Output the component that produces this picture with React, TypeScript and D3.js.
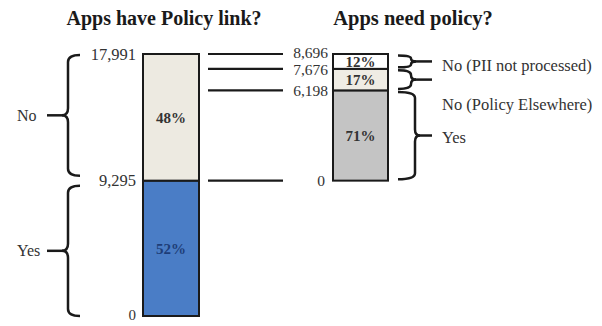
import React from "react";
import * as d3 from "d3";

// ---- data ----
const leftTitle = "Apps have Policy link?";
const rightTitle = "Apps need policy?";
const leftCategories = ["Yes", "No"]; // bottom to top
const leftValues = [9295, 8696];
const leftTicks = [0, 9295, 17991];
const rightCategories = ["Yes", "No (Policy Elsewhere)", "No (PII not processed)"]; // bottom to top
const rightValues = [6198, 1478, 1020];
const rightTicks = [0, 6198, 7676, 8696];

const leftFills = ["#4a7dc6", "#edeae1"];
const leftTextFills = ["#1e3d78", "#333333"];
const rightFills = ["#c4c4c4", "#efece4", "#ffffff"];

const W = 602;
const H = 326;
const FONT = "'Liberation Serif', 'Times New Roman', serif";
const fmt = d3.format(",");

function stack(values: number[]) {
  let acc = 0;
  return values.map((v) => {
    const s = { y0: acc, y1: acc + v, v };
    acc += v;
    return s;
  });
}

// curly brace path: ends at x0, vertical at xv, middle point at xm
function bracePath(x0: number, xv: number, xm: number, y1: number, y2: number, r: number) {
  const ym = (y1 + y2) / 2;
  const rr = Math.min(r, (y2 - y1) / 4);
  const p = d3.path();
  p.moveTo(x0, y1);
  p.quadraticCurveTo(xv, y1, xv, y1 + rr);
  p.lineTo(xv, ym - rr);
  p.quadraticCurveTo(xv, ym, xm, ym);
  p.quadraticCurveTo(xv, ym, xv, ym + rr);
  p.lineTo(xv, y2 - rr);
  p.quadraticCurveTo(xv, y2, x0, y2);
  return p.toString();
}

export default function App() {
  const leftTotal = d3.sum(leftValues);
  const rightTotal = d3.sum(rightValues);
  const y = d3.scaleLinear().domain([0, leftTotal]).range([316, 54]);
  const yR = d3.scaleLinear().domain([0, rightTotal]).range([y(leftValues[0]), y(leftTotal)]);

  const lx = 143, lw = 56;
  const rx = 333, rw = 55;
  const leftStack = stack(leftValues);
  const rightStack = stack(rightValues);

  const stroke = "#1a1a1a";

  // right braces tip positions
  const rTips = rightStack.map((s) => (yR(s.y0) + yR(s.y1)) / 2);
  const rLabelY = [rTips[0] + 2, rTips[1] + 25, rTips[2] + 4];

  // right tick label positions with a minimum spacing (top to bottom)
  const sortedTicks = [...rightTicks].sort((a, b) => b - a);
  const tickLabelY: Record<number, number> = {};
  let prev = -Infinity;
  sortedTicks.forEach((t, i) => {
    let yy = yR(t) - (i === 0 ? 1 : 0);
    if (yy < prev + 17) yy = prev + 17;
    tickLabelY[t] = yy;
    prev = yy;
  });

  return (
    <svg width={W} height={H} style={{ position: "absolute", left: 0, top: 0, background: "#fff" }} fontFamily={FONT}>
      <rect width={W} height={H} fill="#fff" />
      {/* titles */}
      <text x={164} y={25} textAnchor="middle" fontWeight="bold" fontSize={20} fill="#1a1a1a">{leftTitle}</text>
      <text x={413} y={25} textAnchor="middle" fontWeight="bold" fontSize={20.5} fill="#1a1a1a">{rightTitle}</text>

      {/* left bar */}
      {leftStack.map((s, i) => (
        <g key={"l" + i}>
          <rect x={lx} y={y(s.y1)} width={lw} height={y(s.y0) - y(s.y1)} fill={leftFills[i]} stroke={stroke} strokeWidth={2} />
          <text x={lx + lw / 2} y={(y(s.y0) + y(s.y1)) / 2} dy="0.35em" textAnchor="middle" fontWeight="bold" fontSize={15} fill={leftTextFills[i]}>
            {Math.round((s.v / leftTotal) * 100) + "%"}
          </text>
        </g>
      ))}
      {/* left ticks */}
      {leftTicks.map((t) => (
        <text key={"lt" + t} x={136} y={y(t) - (t === 0 ? 1 : 0)} dy="0.35em" textAnchor="end" fontSize={t === 0 ? 15 : 16.5} fill="#333">{fmt(t)}</text>
      ))}
      {/* left braces */}
      {leftStack.map((s, i) => {
        const y1 = y(s.y1) + (i === 1 ? 1 : 5);
        const y2 = y(s.y0) - (i === 0 ? 0 : 5);
        const ym = (y1 + y2) / 2;
        return (
          <g key={"lb" + i}>
            <path d={bracePath(80, 68, 62, y1, y2, 7)} fill="none" stroke={stroke} strokeWidth={2.5} />
            <line x1={47} x2={64} y1={ym} y2={ym} stroke={stroke} strokeWidth={2.5} />
            <text x={17} y={ym} dy="0.35em" fontSize={16} fill="#333">{leftCategories[i]}</text>
          </g>
        );
      })}

      {/* right axis long tick lines and labels */}
      {rightTicks.map((t) => (
        <g key={"rt" + t}>
          <line x1={208} x2={283} y1={yR(t)} y2={yR(t)} stroke={stroke} strokeWidth={2.2} />
          <text x={t === 0 ? 325 : 328} y={tickLabelY[t]} dy="0.35em" textAnchor="end" fontSize={15.5} fill="#333">{fmt(t)}</text>
        </g>
      ))}

      {/* right bar */}
      {rightStack.map((s, i) => (
        <g key={"r" + i}>
          <rect x={rx} y={yR(s.y1)} width={rw} height={yR(s.y0) - yR(s.y1)} fill={rightFills[i]} stroke={stroke} strokeWidth={2} />
          <text x={rx + rw / 2} y={(yR(s.y0) + yR(s.y1)) / 2} dy="0.35em" textAnchor="middle" fontWeight="bold" fontSize={15} fill="#333">
            {Math.round((s.v / rightTotal) * 100) + "%"}
          </text>
        </g>
      ))}
      {/* right braces */}
      {rightStack.map((s, i) => {
        const y1 = yR(s.y1) + 1.5;
        const y2 = yR(s.y0) - 1.5;
        const ym = (y1 + y2) / 2;
        const xv = i === 0 ? 415 : 411;
        return (
          <g key={"rb" + i}>
            <path d={bracePath(398, xv, xv + 5, y1, y2, 6)} fill="none" stroke={stroke} strokeWidth={2.5} />
            <line x1={xv + 3} x2={432} y1={ym} y2={ym} stroke={stroke} strokeWidth={2.5} />
            <text x={442} y={rLabelY[i]} dy="0.35em" fontSize={16.5} fill="#333">{rightCategories[i]}</text>
          </g>
        );
      })}
    </svg>
  );
}
